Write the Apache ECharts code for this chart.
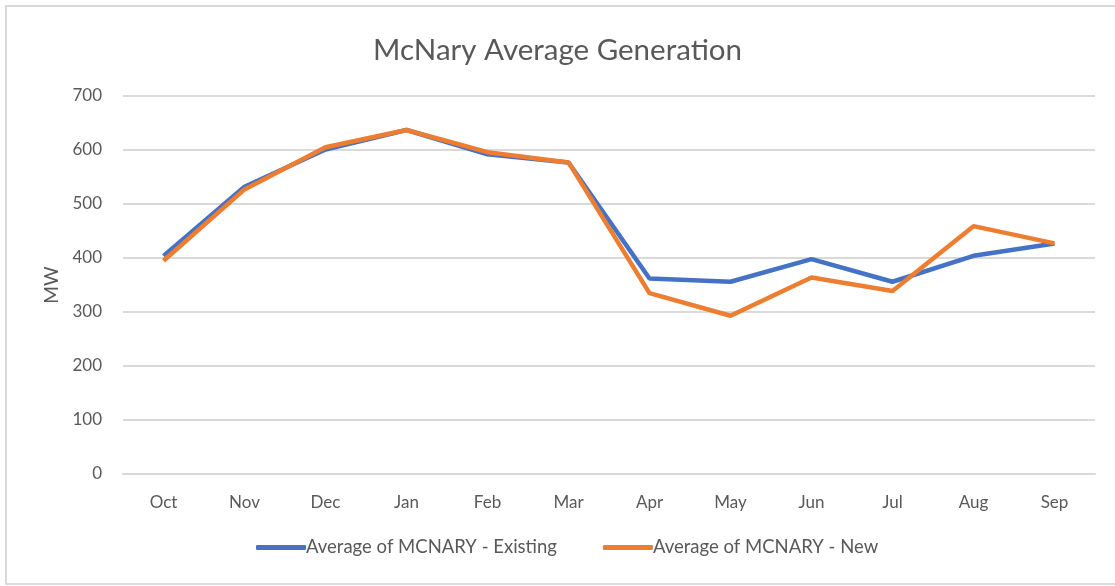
<!DOCTYPE html>
<html>
<head>
<meta charset="utf-8">
<script src="https://cdn.jsdelivr.net/npm/echarts@6/dist/echarts.min.js"></script>
<style>
  html, body { margin: 0; padding: 0; background: #fff; overflow: hidden; }
  #frame { position: absolute; left: 5px; top: 5px; width: 1200px; height: 580px; border-top: 2px solid #d9d9d9; border-left: 2px solid #d9d9d9; border-bottom: 2px solid #d9d9d9; box-sizing: border-box; }
  #chart { position: absolute; left: 0; top: 0; width: 1115px; height: 586px; }
</style>
</head>
<body>
<div id="frame"></div>
<div id="chart"></div>
<script>
const months = ["Oct", "Nov", "Dec", "Jan", "Feb", "Mar", "Apr", "May", "Jun", "Jul", "Aug", "Sep"];
const existing = [404, 532, 601, 637, 592, 577, 362, 356, 398, 356, 404, 427];
const newCase = [395, 527, 605, 637, 596, 577, 335, 293, 364, 339, 459, 427];
const yTicks = [0, 700, 100];

const font = "Lato, 'Open Sans', sans-serif";
const myChart = echarts.init(document.getElementById("chart"));

const option = {
  animation: false,
  textStyle: { fontFamily: font },
  title: {
    text: "McNary Average Generation",
    left: "center",
    top: 30,
    textStyle: { fontSize: 29.5, fontWeight: "normal", color: "#595959", fontFamily: font }
  },
  legend: {
    bottom: 24,
    left: 251,
    itemWidth: 50,
    itemHeight: 5,
    itemGap: 46,
    icon: "roundRect",
    textStyle: { fontSize: 18.5, color: "#595959", padding: [0, 0, 0, -5] },
    data: ["Average of MCNARY - Existing", "Average of MCNARY - New"]
  },
  grid: { left: 123, right: 20, top: 96, bottom: 112 },
  xAxis: {
    type: "category",
    boundaryGap: true,
    data: months,
    axisLine: { lineStyle: { color: "#d9d9d9", width: 2 } },
    axisTick: { show: false },
    axisLabel: { fontSize: 17, color: "#595959", margin: 20 }
  },
  yAxis: {
    type: "value",
    min: yTicks[0],
    max: yTicks[1],
    interval: yTicks[2],
    name: "MW",
    nameLocation: "middle",
    nameGap: 62,
    nameTextStyle: { fontSize: 19, color: "#595959" },
    axisLine: { show: false },
    axisTick: { show: false },
    axisLabel: { fontSize: 17, color: "#595959", margin: 21 },
    splitLine: { lineStyle: { color: "#d9d9d9", width: 2 } }
  },
  series: [
    {
      name: "Average of MCNARY - Existing",
      type: "line",
      data: existing,
      showSymbol: false,
      symbol: "none",
      lineStyle: { width: 4.5, color: "#4472C4" },
      itemStyle: { color: "#4472C4" }
    },
    {
      name: "Average of MCNARY - New",
      type: "line",
      data: newCase,
      showSymbol: false,
      symbol: "none",
      lineStyle: { width: 4.5, color: "#ED7D31" },
      itemStyle: { color: "#ED7D31" }
    }
  ]
};

myChart.setOption(option);
</script>
</body>
</html>
